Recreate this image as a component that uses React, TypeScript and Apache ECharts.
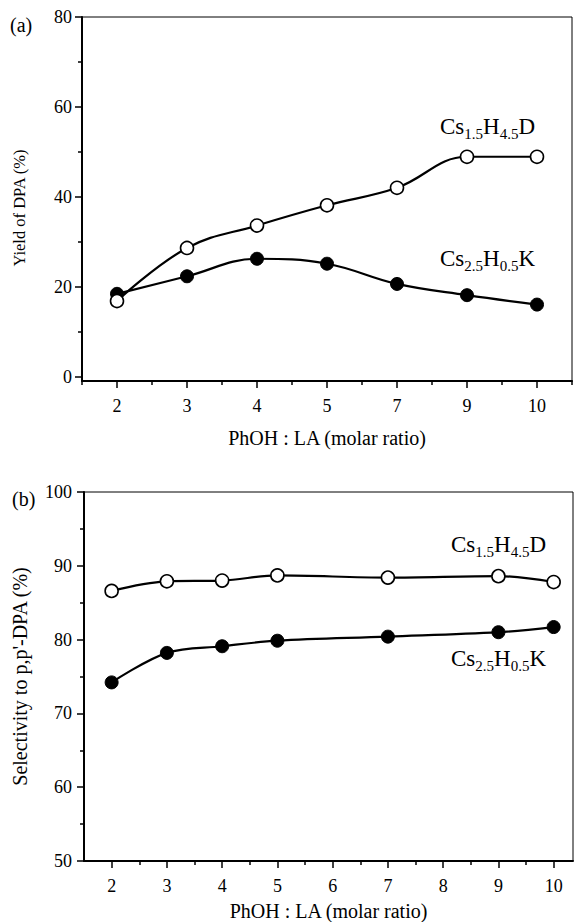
import React, { useEffect, useRef } from "react";
import * as echarts from "echarts";

const FONT = "Liberation Serif";

// Panel (a): yield of DPA vs PhOH:LA molar ratio (category positions)
const topCategories = ["2", "3", "4", "5", "7", "9", "10"];
const yieldCs15H45D = [16.8, 28.6, 33.6, 38.1, 42.0, 48.9, 48.9];
const yieldCs25H05K = [18.4, 22.3, 26.2, 25.1, 20.6, 18.1, 16.0];
const topYTicks = [0, 20, 40, 60, 80];
const topYMinorTicks = [10, 30, 50, 70];

// Panel (b): selectivity to p,p'-DPA vs molar ratio (value axis)
const ratios = [2, 3, 4, 5, 7, 9, 10];
const selCs15H45D = [86.6, 87.9, 88.0, 88.7, 88.4, 88.6, 87.8];
const selCs25H05K = [74.2, 78.2, 79.1, 79.85, 80.4, 81.0, 81.7];
const bottomXTicks = [2, 3, 4, 5, 6, 7, 8, 9, 10];
const bottomXMinorTicks = [2.5, 3.5, 4.5, 5.5, 6.5, 7.5, 8.5, 9.5];

const black = "#000";
const lineStyleAxis = { color: black, width: 2 };
const tickStyle = { color: black, width: 1.5 };
const labelStyle = { color: black, fontSize: 18, fontFamily: FONT };

function seriesLabel(main1: string, sub1: string, main2: string, sub2: string, main3: string) {
  return `{m|${main1}}{s|${sub1}}{m|${main2}}{s|${sub2}}{m|${main3}}`;
}
const richStyle = {
  m: { fontSize: 23, fontFamily: FONT, fill: black, color: black, verticalAlign: "bottom" },
  s: { fontSize: 15, fontFamily: FONT, fill: black, color: black, verticalAlign: "bottom", padding: [0, 0, -3, 0] },
};

export default function App() {
  const ref = useRef<HTMLDivElement>(null);
  useEffect(() => {
    document.body.style.margin = "0";
    if (!ref.current) return;
    const chart = echarts.init(ref.current, null, { renderer: "svg" });
    const openSym = {
      symbol: "circle",
      symbolSize: 13,
      itemStyle: { color: "#fff", borderColor: black, borderWidth: 1.6 },
    };
    const filledSym = {
      symbol: "circle",
      symbolSize: 13,
      itemStyle: { color: black, borderColor: black, borderWidth: 1 },
    };
    chart.setOption({
      animation: false,
      backgroundColor: "#fff",
      grid: [
        { left: 82, top: 17, width: 490, height: 364, show: true, borderColor: black, borderWidth: 1, containLabel: false, outerBoundsMode: "none" },
        { left: 84, top: 492, width: 489, height: 369, show: true, borderColor: black, borderWidth: 1, containLabel: false, outerBoundsMode: "none" },
      ],
      xAxis: [
        {
          gridIndex: 0,
          type: "category",
          position: "bottom",
          data: topCategories,
          boundaryGap: true,
          axisLine: { onZero: false, lineStyle: lineStyleAxis },
          axisTick: { show: true, alignWithLabel: true, length: 7, lineStyle: tickStyle },
          axisLabel: { ...labelStyle, margin: 16 },
          splitLine: { show: false },
          name: "PhOH : LA (molar ratio)",
          nameLocation: "middle",
          nameGap: 47,
          nameTextStyle: { color: black, fontSize: 20, fontFamily: FONT },
        },
        {
          gridIndex: 0,
          type: "category",
          position: "bottom",
          data: topCategories,
          boundaryGap: true,
          axisLine: { show: false, onZero: false },
          axisTick: { show: true, length: 4, lineStyle: tickStyle },
          axisLabel: { show: false },
          splitLine: { show: false },
        },
        {
          gridIndex: 1,
          type: "value",
          position: "bottom",
          min: 1.5,
          max: 10.35,
          axisLine: { show: true, onZero: false, lineStyle: lineStyleAxis },
          axisTick: { show: true, customValues: bottomXTicks, length: 7, lineStyle: tickStyle },
          axisLabel: { ...labelStyle, margin: 16, customValues: bottomXTicks },
          splitLine: { show: false },
          name: "PhOH : LA (molar ratio)",
          nameLocation: "middle",
          nameGap: 40,
          nameTextStyle: { color: black, fontSize: 20, fontFamily: FONT },
        },
        {
          gridIndex: 1,
          type: "value",
          position: "bottom",
          min: 1.5,
          max: 10.35,
          axisLine: { show: false, onZero: false },
          axisTick: { show: true, customValues: bottomXMinorTicks, length: 4, lineStyle: tickStyle },
          axisLabel: { show: false },
          splitLine: { show: false },
        },
      ],
      yAxis: [
        {
          gridIndex: 0,
          type: "value",
          position: "left",
          min: -1,
          max: 80,
          axisLine: { show: true, onZero: false, lineStyle: lineStyleAxis },
          axisTick: { show: true, customValues: topYTicks, length: 7, lineStyle: tickStyle },
          axisLabel: { ...labelStyle, margin: 10, customValues: topYTicks },
          splitLine: { show: false },
          name: "Yield of DPA (%)",
          nameLocation: "middle",
          nameGap: 54,
          nameRotate: 90,
          nameTextStyle: { color: black, fontSize: 16.5, fontFamily: FONT, padding: [0, 18, 0, 0] },
        },
        {
          gridIndex: 0,
          type: "value",
          position: "left",
          min: -1,
          max: 80,
          axisLine: { show: false, onZero: false },
          axisTick: { show: true, customValues: topYMinorTicks, length: 4, lineStyle: tickStyle },
          axisLabel: { show: false },
          splitLine: { show: false },
        },
        {
          gridIndex: 1,
          type: "value",
          position: "left",
          min: 50,
          max: 100,
          interval: 10,
          axisLine: { show: true, onZero: false, lineStyle: lineStyleAxis },
          axisTick: { show: true, length: 7, lineStyle: tickStyle },
          minorTick: { show: true, splitNumber: 2, length: 4, lineStyle: tickStyle },
          axisLabel: { ...labelStyle, margin: 12 },
          splitLine: { show: false },
          name: "Selectivity to p,p'-DPA (%)",
          nameLocation: "middle",
          nameGap: 54,
          nameRotate: 90,
          nameTextStyle: { color: black, fontSize: 20, fontFamily: FONT },
        },
      ],
      series: [
        {
          type: "line",
          name: "Cs2.5H0.5K (a)",
          xAxisIndex: 0,
          yAxisIndex: 0,
          data: yieldCs25H05K,
          smooth: 0.4,
          lineStyle: { color: black, width: 2.2 },
          ...filledSym,
          z: 3,
        },
        {
          type: "line",
          name: "Cs1.5H4.5D (a)",
          xAxisIndex: 0,
          yAxisIndex: 0,
          data: yieldCs15H45D,
          smooth: 0.4,
          lineStyle: { color: black, width: 2.2 },
          ...openSym,
          z: 4,
        },
        {
          type: "line",
          name: "Cs2.5H0.5K (b)",
          xAxisIndex: 2,
          yAxisIndex: 2,
          data: ratios.map((r, i) => [r, selCs25H05K[i]]),
          smooth: 0.35,
          lineStyle: { color: black, width: 2.2 },
          ...filledSym,
          z: 3,
        },
        {
          type: "line",
          name: "Cs1.5H4.5D (b)",
          xAxisIndex: 2,
          yAxisIndex: 2,
          data: ratios.map((r, i) => [r, selCs15H45D[i]]),
          smooth: 0.35,
          lineStyle: { color: black, width: 2.2 },
          ...openSym,
          z: 4,
        },
      ],
      graphic: [
        { type: "text", x: 10, y: 25, style: { text: "(a)", fontSize: 20, fontFamily: FONT, fill: black, verticalAlign: "middle" } },
        { type: "text", x: 12, y: 499, style: { text: "(b)", fontSize: 20, fontFamily: FONT, fill: black, verticalAlign: "middle" } },
        { type: "text", x: 440, y: 138, style: { text: seriesLabel("Cs", "1.5", "H", "4.5", "D"), rich: richStyle, verticalAlign: "bottom" } },
        { type: "text", x: 440, y: 270, style: { text: seriesLabel("Cs", "2.5", "H", "0.5", "K"), rich: richStyle, verticalAlign: "bottom" } },
        { type: "text", x: 451, y: 556, style: { text: seriesLabel("Cs", "1.5", "H", "4.5", "D"), rich: richStyle, verticalAlign: "bottom" } },
        { type: "text", x: 451, y: 670, style: { text: seriesLabel("Cs", "2.5", "H", "0.5", "K"), rich: richStyle, verticalAlign: "bottom" } },
      ],
    });
    return () => chart.dispose();
  }, []);
  return <div ref={ref} style={{ position: "absolute", left: 0, top: 0, width: 574, height: 922 }} />;
}
